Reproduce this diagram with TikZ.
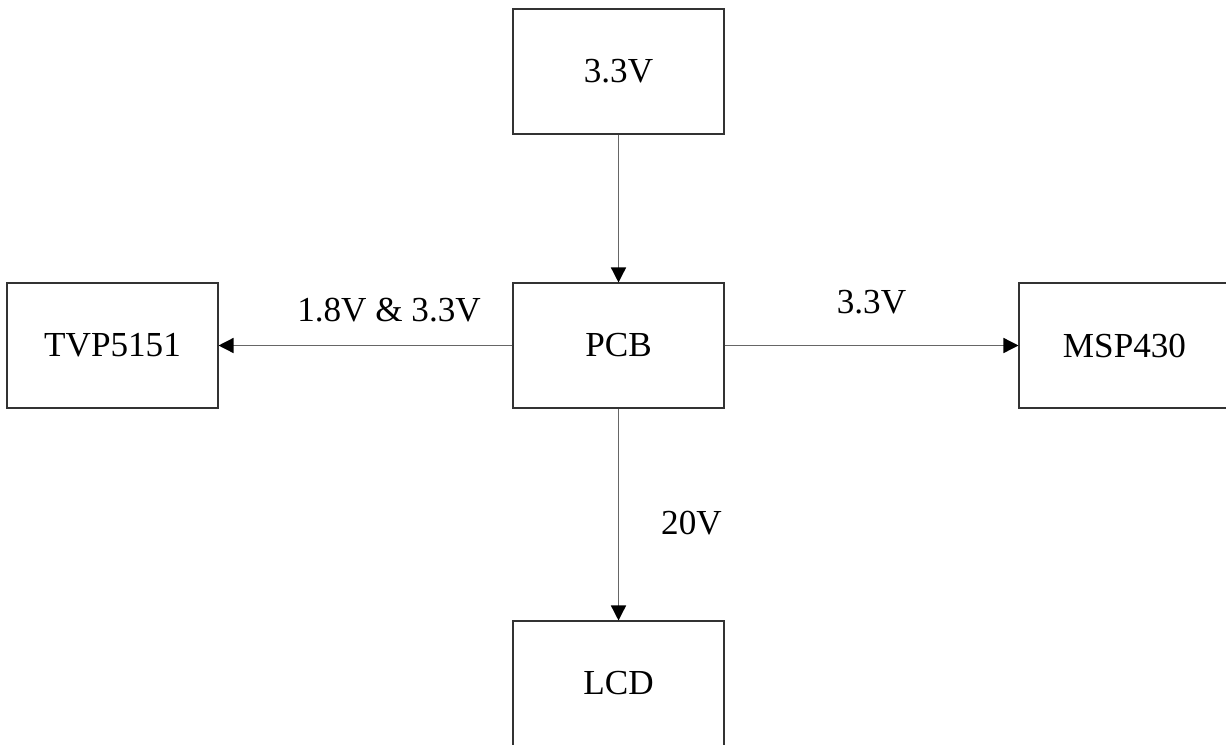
\documentclass[tikz,border=0pt]{standalone}
\usepackage{fontspec}
\setmainfont{Liberation Serif}
\usetikzlibrary{arrows.meta}
\begin{document}
\begin{tikzpicture}[
        blk/.style={draw=black!80,line width=0.6pt,minimum width=4.22cm,minimum height=2.5cm,inner sep=0pt,font=\fontsize{20}{24}\selectfont},
        feed/.style={draw=black!60,line width=0.8pt,-{Triangle[length=0.3cm,width=0.3cm,black]}},
        lbl/.style={font=\fontsize{20}{24}\selectfont}]
        \useasboundingbox (0,0) rectangle (24.52,14.88);
        %% Blocks
        \node[blk] (src) at (12.37,13.45) {3.3V};
        \node[blk] (pcb) at (12.37,7.97) {PCB};
        \node[blk] (tvp) at (2.25,7.97) {TVP5151};
        \node[blk] (msp) at (22.49,7.97) {MSP430};
        \node[blk] (lcd) at (12.37,1.21) {LCD};
        %% Supply lines
        \draw[feed] (src.south) -- (pcb.north);
        \draw[feed] (pcb.west) -- (tvp.east) node[lbl,pos=0.42,yshift=0.7cm] (vtvp) {1.8V \& 3.3V};
        \draw[feed] (pcb.east) -- (msp.west) node[lbl,pos=0.5,yshift=0.86cm] (vmsp) {3.3V};
        \draw[feed] (pcb.south) -- (lcd.north) node[lbl,pos=0.54,xshift=1.46cm] (vlcd) {20V};
    \end{tikzpicture}
\end{document}
